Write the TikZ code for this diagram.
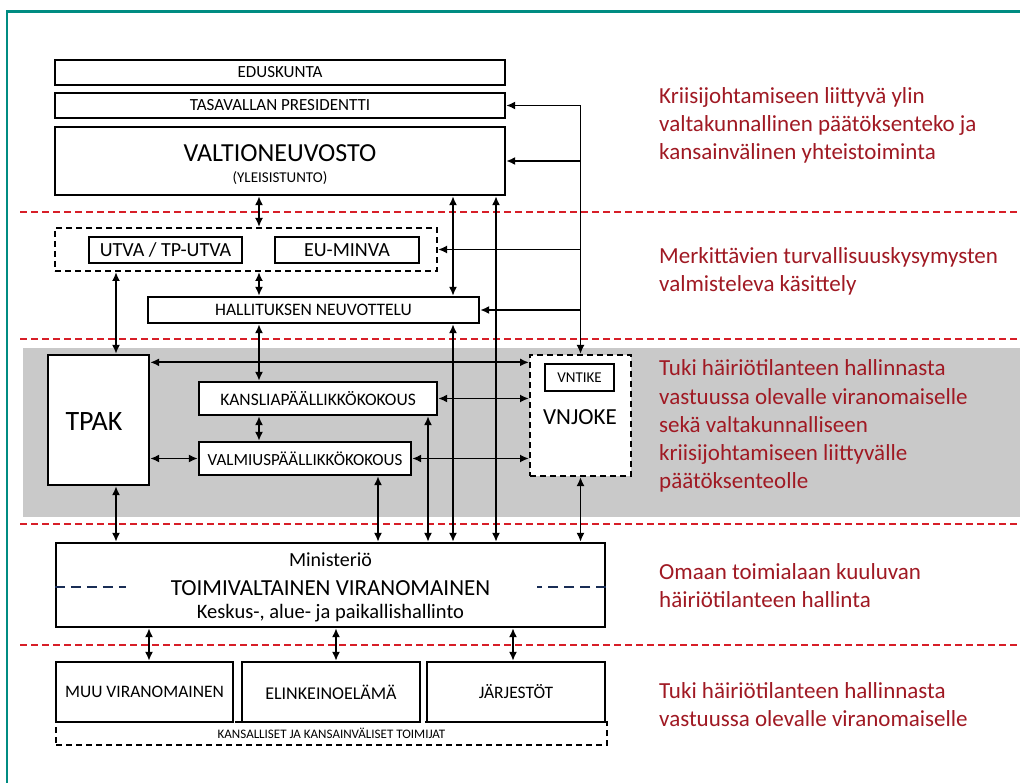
\documentclass[tikz,border=0pt]{standalone}
\usepackage{fontspec}
\setmainfont{Carlito}
\usetikzlibrary{arrows.meta}
\definecolor{teal1}{RGB}{0,140,130}
\definecolor{redd}{RGB}{215,30,40}
\definecolor{txtred}{RGB}{160,25,35}
\definecolor{band}{RGB}{201,201,201}
\definecolor{navy1}{RGB}{25,45,85}
\newcommand\myfs[1]{\fontsize{#1}{#1}\selectfont}
\begin{document}
\begin{tikzpicture}[x=1pt,y=-1pt,
 box/.style={draw, line width=2.3pt, fill=white, inner sep=0pt, rectangle},
 dbox/.style={box, line width=2pt, dash pattern=on 6pt off 4pt},
 lbl/.style={inner sep=0pt},
 rtxt/.style={anchor=base west, inner sep=0pt, text=txtred, font={\myfs{23}}},
 con/.style={line width=1.9pt, {Latex[length=9pt,width=8pt]}-{Latex[length=9pt,width=8pt]}},
 conr/.style={line width=1.9pt, -{Latex[length=9pt,width=8pt]}},
 sepline/.style={redd, line width=1.4pt, dash pattern=on 7pt off 4pt},
 bluedash/.style={navy1, line width=2.2pt, dash pattern=on 10pt off 6pt},
]
\useasboundingbox (0,0) rectangle (1020,783);
\fill[white] (0,0) rectangle (1020,783);
% frame
\draw[teal1, line width=2.5pt] (7,783) -- (7,11.5) -- (1020,11.5);
% grey band
\fill[band] (23,348) rectangle (1020,517);
% separators
\draw[sepline] (20,212) -- (1020,212);
\draw[sepline] (20,339) -- (1020,339);
\draw[sepline] (20,524) -- (1020,524);
\draw[sepline] (20,645) -- (1020,645);

% column coordinates
\coordinate (c116) at (116,0);
\coordinate (c259) at (259,0);
\coordinate (c378) at (378,0);
\coordinate (c428) at (428,0);
\coordinate (c453) at (453,0);
\coordinate (c496) at (496,0);
\coordinate (c149) at (149,0);
\coordinate (c336) at (336,0);
\coordinate (c513) at (513,0);

% top boxes
\node[box, minimum width=450pt, minimum height=25pt, font={\myfs{17}}] (edus) at (280,72.5) {EDUSKUNTA};
\node[box, minimum width=450pt, minimum height=25pt, font={\myfs{17}}] (pres) at (280,105.5) {TASAVALLAN PRESIDENTTI};
\node[box, minimum width=450pt, minimum height=68pt] (vn) at (280,161) {};
\node[lbl, font={\myfs{26}}] (vnt) at (280,153) {VALTIONEUVOSTO};
\node[lbl, font={\myfs{15}}] (vns) at (280,178.5) {(YLEISISTUNTO)};

% preparatory
\node[dbox, minimum width=382pt, minimum height=43pt] (grp) at (246,249.5) {};
\node[box, minimum width=153pt, minimum height=26pt, font={\myfs{20}}] (utva) at (165.5,250) {UTVA / TP-UTVA};
\node[box, minimum width=144pt, minimum height=26pt, font={\myfs{20}}] (eumin) at (347,250) {EU-MINVA};
\node[box, minimum width=331pt, minimum height=26pt, font={\myfs{17.5}}] (hall) at (313.5,310) {HALLITUKSEN NEUVOTTELU};

% support band
\node[box, minimum width=101pt, minimum height=130pt] (tpak) at (98.5,420) {};
\node[lbl, font={\myfs{28}}] (tpakt) at (94,421.5) {TPAK};
\node[box, minimum width=238pt, minimum height=33pt, font={\myfs{17.5}}] (kans) at (318,398.5) {KANSLIAPÄÄLLIKKÖKOKOUS};
\node[box, minimum width=212pt, minimum height=33pt, font={\myfs{17}}] (valm) at (305,458.5) {VALMIUSPÄÄLLIKKÖKOKOUS};
\node[dbox, minimum width=101pt, minimum height=121pt] (vnjoke) at (580.5,415.5) {};
\node[box, minimum width=69pt, minimum height=27pt, font={\myfs{15}}] (vntike) at (579.5,377.5) {VNTIKE};
\node[lbl, font={\myfs{23}}] (vnjoket) at (580,417) {VNJOKE};

% ministry
\node[box, minimum width=549pt, minimum height=84pt] (min) at (330.5,585) {};
\node[lbl, font={\myfs{20}}] (mint) at (330.5,560) {Ministeriö};
\node[lbl, font={\myfs{23}}] (toim) at (330.5,588) {TOIMIVALTAINEN VIRANOMAINEN};
\node[lbl, font={\myfs{20.5}}] (kesk) at (330.5,613.5) {Keskus-, alue- ja paikallishallinto};
\draw[bluedash] ([yshift=-2pt]min.west) -- ++(71,0);
\draw[bluedash] ([yshift=-2pt]min.east) -- ++(-69,0);

% bottom
\node[dbox, minimum width=551pt, minimum height=23pt, font={\myfs{13}}, text depth=0pt] (kansal) at (331.5,733.5) {KANSALLISET JA KANSAINVÄLISET TOIMIJAT};
\node[box, minimum width=177pt, minimum height=60pt, font={\myfs{17.5}}] (muu) at (144.5,692) {MUU VIRANOMAINEN};
\node[box, minimum width=178pt, minimum height=60pt, font={\myfs{18}}] (elin) at (331,692) {ELINKEINOELÄMÄ};
\node[box, minimum width=178pt, minimum height=60pt, font={\myfs{17.5}}] (jarj) at (516,692) {JÄRJESTÖT};

% connectors: central column
\draw[con] (vn.south -| c259) -- (grp.north -| c259);
\draw[con] (grp.south -| c259) -- (hall.north -| c259);
\draw[con] (hall.south -| c259) -- (kans.north -| c259);
\draw[con] (kans.south -| c259) -- (valm.north -| c259);
% TPAK column
\draw[con] (grp.south -| c116) -- (tpak.north -| c116);
\draw[con] (tpak.south -| c116) -- (min.north -| c116);
% lines to ministry
\draw[con] (valm.south -| c378) -- (min.north -| c378);
\draw[con] (kans.south -| c428) -- (min.north -| c428);
\draw[con] (vn.south -| c453) -- (hall.north -| c453);
\draw[con] (hall.south -| c453) -- (min.north -| c453);
\draw[con] (vn.south -| c496) -- (min.north -| c496);
\draw[con] (vnjoke.south) -- (min.north -| vnjoke.south);
% VNJOKE trunk
\draw[con] (vnjoke.north) |- (pres.east);
\draw[conr] (vn.east -| vnjoke.north) -- (vn.east);
\draw[conr] (grp.east -| vnjoke.north) -- (grp.east);
\draw[conr] (hall.east -| vnjoke.north) -- (hall.east);
% horizontal in band
\draw[con] ([yshift=-8.5pt]tpak.north east) -- ([yshift=-8.5pt]tpak.north east -| vnjoke.west);
\draw[con] (kans.east) -- (kans.east -| vnjoke.west);
\draw[con] (valm.west -| tpak.east) -- (valm.west);
\draw[con] (valm.east) -- (valm.east -| vnjoke.west);
% bottom connectors
\draw[con] (min.south -| c149) -- (muu.north -| c149);
\draw[con] (min.south -| c336) -- (elin.north -| c336);
\draw[con] (min.south -| c513) -- (jarj.north -| c513);

% right-hand texts
\node[rtxt] (t1a) at (659,104) {Kriisijohtamiseen liittyvä ylin};
\node[rtxt] (t1b) at (659,132) {valtakunnallinen päätöksenteko ja};
\node[rtxt] (t1c) at (659,160) {kansainvälinen yhteistoiminta};
\node[rtxt] (t2a) at (659,264) {Merkittävien turvallisuuskysymysten};
\node[rtxt] (t2b) at (659,292) {valmisteleva käsittely};
\node[rtxt] (t3a) at (659,376) {Tuki häiriötilanteen hallinnasta};
\node[rtxt] (t3b) at (659,404) {vastuussa olevalle viranomaiselle};
\node[rtxt] (t3c) at (659,432) {sekä valtakunnalliseen};
\node[rtxt] (t3d) at (659,460) {kriisijohtamiseen liittyvälle};
\node[rtxt] (t3e) at (659,488) {päätöksenteolle};
\node[rtxt] (t4a) at (659,579) {Omaan toimialaan kuuluvan};
\node[rtxt] (t4b) at (659,607) {häiriötilanteen hallinta};
\node[rtxt] (t5a) at (659,698) {Tuki häiriötilanteen hallinnasta};
\node[rtxt] (t5b) at (659,726) {vastuussa olevalle viranomaiselle};
\end{tikzpicture}
\end{document}
